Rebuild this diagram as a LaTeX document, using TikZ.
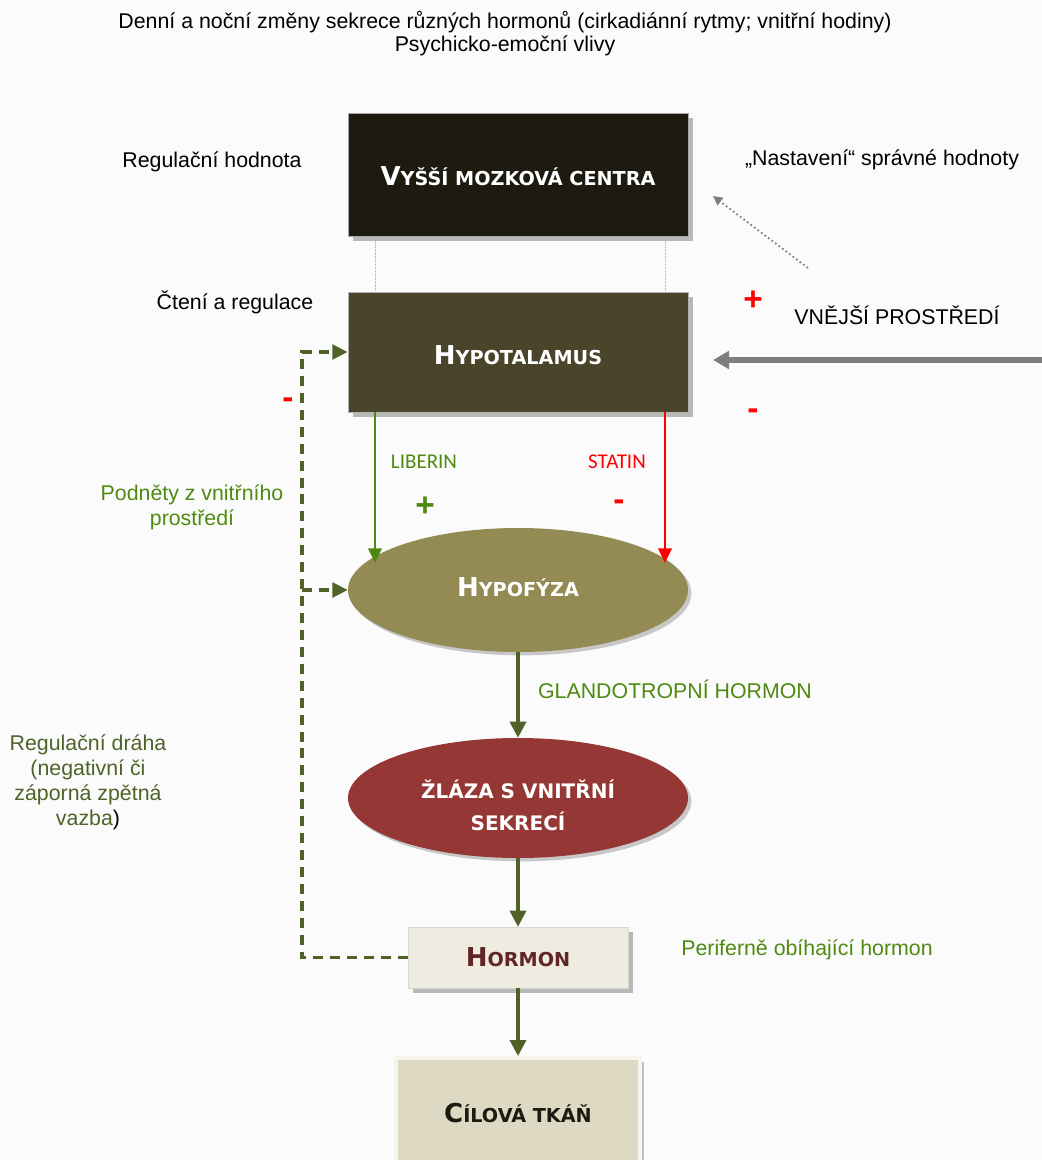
\documentclass[tikz,border=0pt]{standalone}
\usepackage{fontspec}
\setmainfont{Liberation Sans}
\newfontfamily\boxfont{DejaVu Sans}
\newfontfamily\calfont{Carlito}
\usetikzlibrary{arrows.meta,shadows,shapes.geometric}
\definecolor{cTop}{HTML}{1D1B10}
\definecolor{cHyp}{HTML}{4A442A}
\definecolor{cPit}{HTML}{948A54}
\definecolor{cGland}{HTML}{953735}
\definecolor{cHorm}{HTML}{EEECE1}
\definecolor{cHormTxt}{HTML}{632523}
\definecolor{cTarget}{HTML}{DDD9C3}
\definecolor{cOlive}{HTML}{4F6228}
\definecolor{cGreen}{HTML}{4F8A10}
\definecolor{cRed}{HTML}{FF0000}
\definecolor{cGrayArr}{HTML}{7F7F7F}
\definecolor{cBg}{HTML}{FBFBFB}
\newcommand\SCap[2]{{\fontsize{19.5}{22}\selectfont #1}{\fontsize{14.4}{17}\selectfont #2}}
\newcommand\LowerBy[2]{\raisebox{-#1}[0pt][0pt]{#2}}
\begin{document}
\begin{tikzpicture}[x=0.75pt,y=-0.75pt,
  boxnode/.style={rectangle, inner sep=0pt, align=center, font=\boxfont\bfseries},
  ellnode/.style={ellipse, inner sep=0pt, align=center, font=\boxfont\bfseries, text=white},
  shadowed/.style={general shadow={fill=black!28, shadow xshift=3.75pt, shadow yshift=-3.75pt}},
  eshadow/.style={general shadow={fill=black!22, shadow xshift=2.5pt, shadow yshift=-2.5pt}},
  lbl/.style={font=\fontsize{16}{18.75}\selectfont, align=center, inner sep=0pt},
  glbl/.style={lbl, text=cGreen},
  sign/.style={font=\fontsize{25}{25}\selectfont\bfseries, inner sep=0pt},
  main/.style={draw=cOlive, line width=2.6pt, -{Triangle[length=12pt,width=12pt]}},
  libarr/.style={line width=2pt, -{Triangle[length=11pt,width=10pt]}},
  fb/.style={draw=cOlive, line width=2.5pt, dash pattern=on 7.5pt off 5.2pt},
  fbarr/.style={fb, -{Triangle[length=11.5pt,width=11pt]}},
  thin/.style={draw=gray!70, line width=0.5pt, dash pattern=on 0.8pt off 0.8pt}
]
\useasboundingbox (0,0) rectangle (1042,1160);
\fill[cBg] (0,0) rectangle (1042,1160);

% helper coordinates
\coordinate (xl) at (375,0);
\coordinate (xr) at (665,0);
\coordinate (xf) at (302,0);
\coordinate (lt) at (375,563);
\coordinate (st) at (665,563);
\coordinate (envR) at (1042,360);
\coordinate (envT) at (713,360);
\coordinate (dotA) at (808,268);
\coordinate (dotB) at (713,196);

% titles
\node[lbl, font=\fontsize{16}{17.4}\selectfont] (title) at (505,34)
  {Denní a noční změny sekrece různých hormonů (cirkadiánní rytmy; vnitřní hodiny)\\Psychicko-emoční vlivy};

% main nodes
\node[boxnode, fill=cTop, draw=gray!70, line width=0.6pt, text=white,
  minimum width=255pt, minimum height=92.25pt, shadowed] (top) at (518,174.5)
  {\LowerBy{8.6pt}{\SCap{V}{YŠŠÍ MOZKOVÁ CENTRA}}};
\node[boxnode, fill=cHyp, draw=gray!60, line width=0.6pt, text=white,
  minimum width=255pt, minimum height=90pt, shadowed] (hyp) at (518,352)
  {\LowerBy{9.3pt}{\SCap{H}{YPOTALAMUS}}};
\node[ellnode, fill=cPit, minimum width=255pt, minimum height=93pt, eshadow] (pit) at (518,590)
  {\LowerBy{4.9pt}{\SCap{H}{YPOFÝZA}}};
\node[ellnode, fill=cGland, minimum width=255pt, minimum height=90pt, eshadow,
  font=\boxfont\bfseries\fontsize{15}{24}\selectfont] (gland) at (518,798)
  {\LowerBy{0pt}{\begin{tabular}[t]{@{}c@{}}ŽLÁZA S VNITŘNÍ\\SEKRECÍ\end{tabular}}};
\node[boxnode, fill=cHorm, draw=cHorm!80!gray, line width=0.4pt, text=cHormTxt,
  minimum width=165pt, minimum height=45.75pt, shadowed] (horm) at (518,957.5)
  {\LowerBy{6.4pt}{\SCap{H}{ORMON}}};
\node[boxnode, fill=cTarget, draw=cHorm!60!white, line width=3pt, text=cTop,
  minimum width=183pt, minimum height=84pt,
  general shadow={fill=black!25, shadow xshift=3pt, shadow yshift=-3pt}] (tgt) at (518,1114)
  {\LowerBy{6.4pt}{\SCap{C}{ÍLOVÁ TKÁŇ}}};

% side labels
\node[lbl] (reghod) at (212,162) {Regulační hodnota};
\node[lbl] (cteni) at (235,302) {Čtení a regulace};
\node[lbl] (nast) at (882,160) {„Nastavení“ správné hodnoty};
\node[lbl] (vnej) at (897,315) {VNĚJŠÍ PROSTŘEDÍ};
\node[sign, text=cRed] (plusE) at (753,301) {+};
\node[sign, text=cRed] (minusE) at (753,414) {-};
\node[sign, text=cRed] (minusL) at (288,403) {-};
\node[font=\calfont\fontsize{15.75}{18}\selectfont, text=cGreen, inner sep=0pt] (lib) at (424,462) {LIBERIN};
\node[font=\calfont\fontsize{15.75}{18}\selectfont, text=cRed, inner sep=0pt] (stat) at (617,462) {STATIN};
\node[sign, text=cGreen] (plusL) at (425,507) {+};
\node[sign, text=cRed] (minusS) at (619,505) {-};
\node[glbl] (podn) at (192,507.5) {Podněty z vnitřního\\prostředí};
\node[glbl] (glando) at (675,689) {GLANDOTROPNÍ HORMON};
\node[glbl] (perif) at (807,950) {Periferně obíhající hormon};
\node[lbl, text=cOlive] (regdr) at (88,782)
  {Regulační dráha\\(negativní či\\záporná zpětná\\vazba\textcolor{black}{)}};

% connectors
\draw[thin] (top.south -| xl) -- (hyp.north -| xl);
\draw[thin] (top.south -| xr) -- (hyp.north -| xr);
\draw[libarr, draw=cGreen] (hyp.south -| xl) -- (lt);
\draw[libarr, draw=cRed] (hyp.south -| xr) -- (st);
\draw[main] (pit.south) -- (gland.north);
\draw[main] (gland.south) -- (horm.north);
\draw[main] (horm.south) -- (tgt.north);
\draw[draw=cGrayArr, line width=4pt, -{Triangle[length=12pt,width=13pt]}] (envR) -- (envT);
\draw[draw=cGrayArr, line width=1.3pt, dash pattern=on 1.3pt off 2pt,
  -{Triangle[length=7pt,width=7pt]}] (dotA) -- (dotB);
\draw[fbarr] (horm.west) -- (horm.west -| xf) -- (hyp.west -| xf) -- (hyp.west);
\draw[fbarr] (pit.west -| xf) -- (pit.west);
\end{tikzpicture}
\end{document}
